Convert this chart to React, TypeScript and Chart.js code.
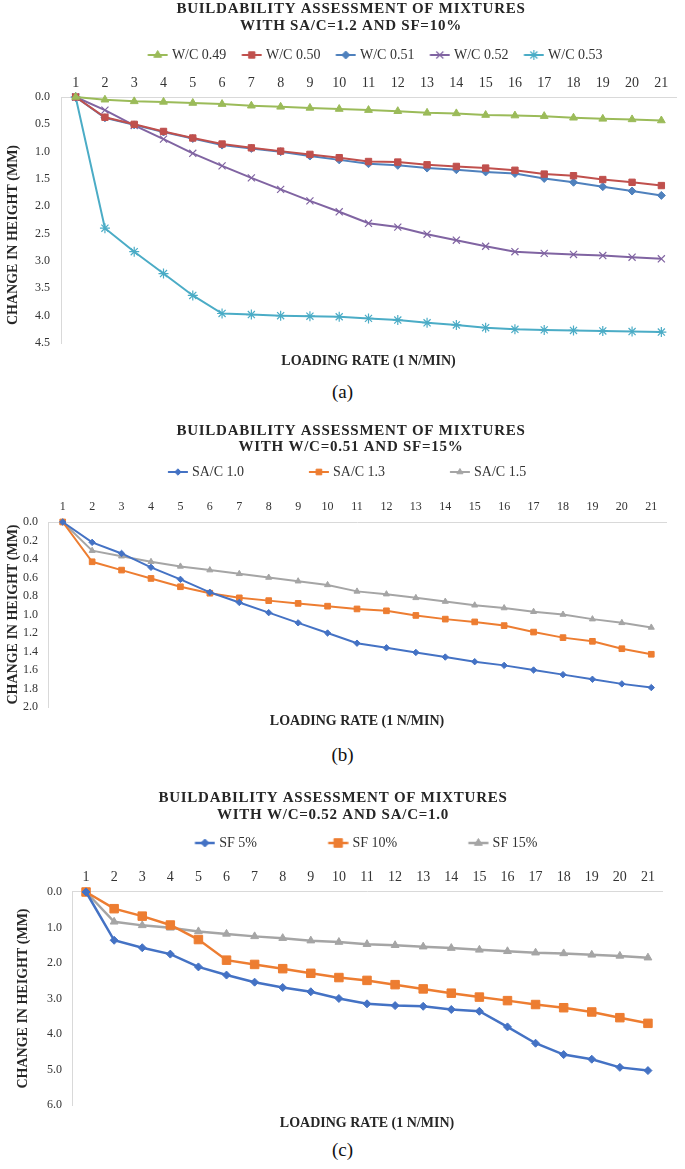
import React, { useEffect, useRef } from 'react';
import { Chart, registerables } from 'chart.js';
import { drawPoint } from 'chart.js/helpers';

Chart.register(...registerables);

// ---------- data ----------
const loadSteps = ['1', '2', '3', '4', '5', '6', '7', '8', '9', '10', '11', '12', '13', '14', '15', '16', '17', '18', '19', '20', '21'];

// (a) SA/C = 1.2, SF = 10%
const wc049 = [0, 0.05, 0.08, 0.09, 0.11, 0.13, 0.16, 0.18, 0.20, 0.22, 0.24, 0.26, 0.29, 0.30, 0.33, 0.34, 0.35, 0.38, 0.40, 0.41, 0.43];
const wc050 = [0, 0.37, 0.50, 0.63, 0.75, 0.86, 0.93, 0.99, 1.05, 1.11, 1.18, 1.19, 1.24, 1.27, 1.30, 1.34, 1.41, 1.44, 1.51, 1.56, 1.62];
const wc051 = [0, 0.38, 0.51, 0.64, 0.76, 0.88, 0.94, 1.00, 1.08, 1.15, 1.22, 1.25, 1.30, 1.33, 1.37, 1.40, 1.49, 1.56, 1.64, 1.72, 1.80];
const wc052 = [0, 0.24, 0.52, 0.77, 1.03, 1.26, 1.48, 1.69, 1.90, 2.10, 2.31, 2.38, 2.51, 2.62, 2.73, 2.83, 2.86, 2.88, 2.90, 2.93, 2.96];
const wc053 = [0, 2.40, 2.83, 3.23, 3.63, 3.96, 3.98, 4.00, 4.01, 4.02, 4.05, 4.08, 4.13, 4.17, 4.22, 4.25, 4.26, 4.27, 4.28, 4.29, 4.30];

// (b) W/C = 0.51, SF = 15%
const sac10 = [0, 0.22, 0.34, 0.49, 0.62, 0.76, 0.87, 0.98, 1.09, 1.20, 1.31, 1.36, 1.41, 1.46, 1.51, 1.55, 1.60, 1.65, 1.70, 1.75, 1.79];
const sac13 = [0, 0.43, 0.52, 0.61, 0.70, 0.77, 0.82, 0.85, 0.88, 0.91, 0.94, 0.96, 1.01, 1.05, 1.08, 1.12, 1.19, 1.25, 1.29, 1.37, 1.43];
const sac15 = [0, 0.31, 0.37, 0.43, 0.48, 0.52, 0.56, 0.60, 0.64, 0.68, 0.75, 0.78, 0.82, 0.86, 0.90, 0.93, 0.97, 1.00, 1.05, 1.09, 1.14];

// (c) W/C = 0.52, SA/C = 1.0
const sf5 = [0, 1.36, 1.57, 1.75, 2.11, 2.34, 2.54, 2.69, 2.81, 3.00, 3.15, 3.20, 3.22, 3.31, 3.36, 3.80, 4.26, 4.58, 4.71, 4.94, 5.03];
const sf10 = [0, 0.47, 0.68, 0.93, 1.34, 1.92, 2.04, 2.16, 2.29, 2.41, 2.49, 2.61, 2.73, 2.85, 2.96, 3.06, 3.17, 3.26, 3.38, 3.54, 3.70];
const sf15 = [0, 0.84, 0.94, 1.01, 1.11, 1.18, 1.25, 1.30, 1.37, 1.41, 1.47, 1.50, 1.54, 1.58, 1.63, 1.67, 1.71, 1.73, 1.77, 1.80, 1.85];

const titleA = ['BUILDABILITY ASSESSMENT OF MIXTURES', 'WITH SA/C=1.2 AND SF=10%'];
const titleB = ['BUILDABILITY ASSESSMENT OF MIXTURES', 'WITH W/C=0.51 AND SF=15%'];
const titleC = ['BUILDABILITY ASSESSMENT OF MIXTURES', 'WITH W/C=0.52 AND SA/C=1.0'];
const xTitle = 'LOADING RATE (1 N/MIN)';
const yTitle = 'CHANGE IN HEIGHT (MM)';

// ---------- styling ----------
const FONT = "'Liberation Serif', 'Times New Roman', serif";
const TEXT = '#262626';
const AXIS = '#d9d9d9';
const EXT = 3; // legend marker line runs this far past its box

type Series = {
  label: string; data: number[]; color: string; pointStyle: string;
  radius: number; lineWidth: number; pointBorderWidth: number;
};

type Spec = {
  top: number; height: number;
  title: string[]; titleLH: number; titlePadTop: number; titlePadBottom: number; titleDx: number;
  legendLead: number; legendLen: number; legendPad: number; legendDx: number;
  xTickSize: number; xTickPad: number; xAxisH: number;
  yMax: number; yStep: number; yTickSize: number; yTickPad: number; yWidth: number; yTitlePadTop: number; yTitleDy: number;
  x2H: number; x2PadBottom: number; padRight: number;
  caption: string; captionY: number;
  series: Series[];
};

const specA: Spec = {
  top: 0, height: 372,
  title: titleA, titleLH: 1.15, titlePadTop: 0, titlePadBottom: 9.5, titleDx: 13,
  legendLead: 11.6, legendLen: 20, legendPad: 4, legendDx: 31.4,
  xTickSize: 14, xTickPad: 5.6, xAxisH: 25,
  yMax: 4.5, yStep: 0.5, yTickSize: 12, yTickPad: 11, yWidth: 61, yTitlePadTop: 4.6, yTitleDy: 15,
  x2H: 29, x2PadBottom: 2.6, padRight: 9,
  caption: '(a)', captionY: 392,
  series: [
    { label: 'W/C 0.49', data: wc049, color: '#9BBB59', pointStyle: 'triangle', radius: 4.5, lineWidth: 2, pointBorderWidth: 1 },
    { label: 'W/C 0.50', data: wc050, color: '#C0504D', pointStyle: 'rect', radius: 4.5, lineWidth: 2, pointBorderWidth: 1 },
    { label: 'W/C 0.51', data: wc051, color: '#4F81BD', pointStyle: 'rectRot', radius: 4, lineWidth: 2, pointBorderWidth: 1 },
    { label: 'W/C 0.52', data: wc052, color: '#8064A2', pointStyle: 'crossRot', radius: 5, lineWidth: 2, pointBorderWidth: 1.2 },
    { label: 'W/C 0.53', data: wc053, color: '#4BACC6', pointStyle: 'star', radius: 5, lineWidth: 2, pointBorderWidth: 1.2 },
  ],
};

const specB: Spec = {
  top: 410, height: 330,
  title: titleB, titleLH: 1.1, titlePadTop: 12.75, titlePadBottom: 5.25, titleDx: 18,
  legendLead: 60.9, legendLen: 20, legendPad: 4, legendDx: -16.4,
  xTickSize: 12, xTickPad: 7.8, xAxisH: 33,
  yMax: 2, yStep: 0.2, yTickSize: 12, yTickPad: 10, yWidth: 48, yTitlePadTop: 4.6, yTitleDy: 0,
  x2H: 33, x2PadBottom: 10.6, padRight: 19,
  caption: '(b)', captionY: 755,
  series: [
    { label: 'SA/C 1.0', data: sac10, color: '#4472C4', pointStyle: 'rectRot', radius: 3.2, lineWidth: 2, pointBorderWidth: 1 },
    { label: 'SA/C 1.3', data: sac13, color: '#ED7D31', pointStyle: 'rect', radius: 4, lineWidth: 2, pointBorderWidth: 1 },
    { label: 'SA/C 1.5', data: sac15, color: '#A5A5A5', pointStyle: 'triangle', radius: 3.5, lineWidth: 2, pointBorderWidth: 1 },
  ],
};

const specC: Spec = {
  top: 785, height: 350,
  title: titleC, titleLH: 1.1333, titlePadTop: 4.5, titlePadBottom: 8.5, titleDx: 2,
  legendLead: 67.5, legendLen: 20, legendPad: 4, legendDx: 1.5,
  xTickSize: 14, xTickPad: 6.6, xAxisH: 32,
  yMax: 6, yStep: 1, yTickSize: 12, yTickPad: 10, yWidth: 72, yTitlePadTop: 14.6, yTitleDy: 0,
  x2H: 30, x2PadBottom: 3.6, padRight: 23,
  caption: '(c)', captionY: 1150,
  series: [
    { label: 'SF 5%', data: sf5, color: '#4472C4', pointStyle: 'rectRot', radius: 4, lineWidth: 2.5, pointBorderWidth: 1 },
    { label: 'SF 10%', data: sf10, color: '#ED7D31', pointStyle: 'rect', radius: 6, lineWidth: 2.5, pointBorderWidth: 1 },
    { label: 'SF 15%', data: sf15, color: '#A5A5A5', pointStyle: 'triangle', radius: 4.5, lineWidth: 2.5, pointBorderWidth: 1 },
  ],
};

// shifts title / legend horizontally, adds title letter spacing, nudges the y title
const shiftPlugin = {
  id: 'shiftBoxes',
  afterLayout(chart: any, _args: any, opts: any) {
    const ctx = chart.ctx as any;
    const t = chart.titleBlock;
    if (t) {
      t.left += opts.titleDx || 0;
      t.right += opts.titleDx || 0;
      if (!t.__patched) {
        const orig = t.draw.bind(t);
        t.draw = function () {
          const prev = ctx.letterSpacing;
          ctx.letterSpacing = opts.letterSpacing || '0px';
          orig();
          ctx.letterSpacing = prev || '0px';
        };
        t.__patched = true;
      }
    }
    const lg = chart.legend;
    if (lg) {
      lg.left += opts.legendDx || 0;
      lg.right += opts.legendDx || 0;
    }
    const ys = chart.scales.y;
    if (ys && !ys.__patched && opts.yTitleDy) {
      const origTitle = ys.drawTitle.bind(ys);
      ys.drawTitle = function () {
        ctx.save();
        ctx.translate(0, opts.yTitleDy);
        origTitle();
        ctx.restore();
      };
      ys.__patched = true;
    }
  },
};

function makeLegendImage(s: Series, lead: number, len: number) {
  const boxW = lead + len - EXT;
  const c = document.createElement('canvas');
  const h = 16;
  c.width = Math.round(boxW + 2 * EXT);
  c.height = h;
  const ctx = c.getContext('2d')!;
  const x0 = lead + EXT;
  ctx.strokeStyle = s.color;
  ctx.fillStyle = s.color;
  ctx.lineWidth = s.lineWidth;
  ctx.beginPath();
  ctx.moveTo(x0, h / 2);
  ctx.lineTo(x0 + len, h / 2);
  ctx.stroke();
  ctx.lineWidth = s.pointBorderWidth;
  drawPoint(ctx, { pointStyle: s.pointStyle as any, radius: s.radius, rotation: 0, borderWidth: s.pointBorderWidth } as any, x0 + len / 2, h / 2);
  return c;
}

function buildConfig(spec: Spec, imgs: HTMLCanvasElement[]): any {
  return {
    type: 'line',
    data: {
      labels: loadSteps,
      datasets: spec.series.map((s) => ({
        label: s.label,
        data: s.data,
        borderColor: s.color,
        backgroundColor: s.color,
        borderWidth: s.lineWidth,
        pointStyle: s.pointStyle,
        pointRadius: s.radius,
        pointHoverRadius: s.radius,
        pointBackgroundColor: s.color,
        pointBorderColor: s.color,
        pointBorderWidth: s.pointBorderWidth,
        tension: 0,
        fill: false,
        clip: false,
        xAxisID: 'x',
        yAxisID: 'y',
      })),
    },
    options: {
      responsive: false,
      animation: false,
      devicePixelRatio: 1,
      events: [],
      layout: { padding: { top: 0, left: 0, right: spec.padRight, bottom: 0 } },
      plugins: {
        tooltip: { enabled: false },
        title: {
          display: true,
          text: spec.title,
          color: TEXT,
          font: { family: FONT, size: 15, weight: 'bold', lineHeight: spec.titleLH },
          padding: { top: spec.titlePadTop, bottom: spec.titlePadBottom },
        },
        legend: {
          display: true,
          position: 'top',
          align: 'center',
          labels: {
            usePointStyle: true,
            pointStyleWidth: spec.legendLead + spec.legendLen - EXT,
            padding: spec.legendPad,
            color: '#333333',
            font: { family: FONT, size: 14 },
            generateLabels: (chart: any) => {
              const items = (Chart.defaults.plugins.legend.labels as any).generateLabels(chart);
              items.forEach((it: any, i: number) => { it.pointStyle = imgs[i]; });
              return items;
            },
          },
        },
        shiftBoxes: { titleDx: spec.titleDx, legendDx: spec.legendDx, letterSpacing: '0.75px', yTitleDy: spec.yTitleDy },
      },
      scales: {
        x: {
          type: 'category',
          position: 'top',
          offset: true,
          grid: { display: false, drawTicks: false },
          border: { display: true, color: AXIS, width: 1 },
          ticks: {
            autoSkip: false, maxRotation: 0, minRotation: 0,
            padding: spec.xTickPad, color: '#333333',
            font: { family: FONT, size: spec.xTickSize },
          },
          afterFit: (sc: any) => { sc.height = spec.xAxisH; },
        },
        x2: {
          type: 'category',
          position: 'bottom',
          offset: true,
          grid: { display: false, drawTicks: false },
          border: { display: false },
          ticks: { display: false },
          title: {
            display: true, text: xTitle, color: TEXT,
            font: { family: FONT, size: 14, weight: 'bold', lineHeight: 1.2 },
            padding: { top: 0, bottom: spec.x2PadBottom },
          },
          afterFit: (sc: any) => { sc.height = spec.x2H; },
        },
        y: {
          type: 'linear',
          position: 'left',
          reverse: true,
          min: 0,
          max: spec.yMax,
          grid: { display: false, drawTicks: false },
          border: { display: true, color: AXIS, width: 1 },
          ticks: {
            stepSize: spec.yStep,
            padding: spec.yTickPad,
            color: '#333333',
            font: { family: FONT, size: spec.yTickSize },
            callback: (v: any) => Number(v).toFixed(1),
          },
          title: {
            display: true, text: yTitle, color: TEXT,
            font: { family: FONT, size: 14, weight: 'bold', lineHeight: 1.2 },
            padding: { top: spec.yTitlePadTop, bottom: 0 },
          },
          afterFit: (sc: any) => { sc.width = spec.yWidth; },
        },
      },
    },
    plugins: [shiftPlugin],
  };
}

function Panel({ spec }: { spec: Spec }) {
  const ref = useRef<HTMLCanvasElement | null>(null);
  useEffect(() => {
    if (!ref.current) return;
    const imgs = spec.series.map((s) => makeLegendImage(s, spec.legendLead, spec.legendLen));
    const chart = new Chart(ref.current, buildConfig(spec, imgs));
    return () => chart.destroy();
  }, [spec]);
  return (
    <>
      <div style={{ position: 'absolute', left: 0, top: spec.top, width: 685, height: spec.height }}>
        <canvas ref={ref} width={685} height={spec.height} style={{ width: 685, height: spec.height }} />
      </div>
      <div
        style={{
          position: 'absolute', left: 0, width: 685, top: spec.captionY - 11, height: 22,
          lineHeight: '22px', textAlign: 'center', fontFamily: FONT, fontSize: 19, color: '#111',
        }}
      >
        {spec.caption}
      </div>
    </>
  );
}

export default function App() {
  return (
    <div style={{ position: 'absolute', left: 0, top: 0, width: 685, height: 1169, background: '#ffffff', overflow: 'hidden' }}>
      <Panel spec={specA} />
      <Panel spec={specB} />
      <Panel spec={specC} />
    </div>
  );
}
